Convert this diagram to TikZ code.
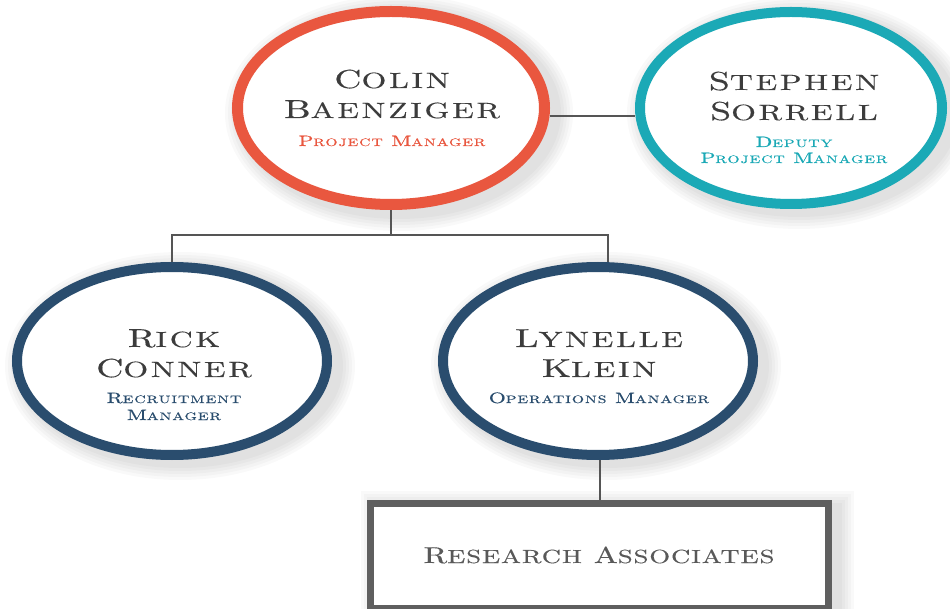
\documentclass[tikz,border=0pt]{standalone}
\usepackage{fontspec}
\usetikzlibrary{shapes.geometric,calc,backgrounds}
\newfontfamily\namefont{lmroman10-regular.otf}[FakeStretch=1.45, LetterSpace=12, FakeBold=0.3]
\newfontfamily\rolefont{lmroman10-regular.otf}[FakeStretch=1.45, LetterSpace=9, FakeBold=0.5]
\newfontfamily\boxfont{lmroman10-regular.otf}[FakeStretch=1.4, LetterSpace=5, FakeBold=0.3]
\newcommand\W[1]{\Wi#1\relax}
\def\Wi#1#2\relax{#1{\fontsize{\scs}{\scs}\selectfont\MakeUppercase{#2}}}
\def\scs{10pt}
\definecolor{cred}{HTML}{E9573F}
\definecolor{cteal}{HTML}{1BA9B6}
\definecolor{cnavy}{HTML}{2A4D6E}
\definecolor{ctext}{HTML}{3C3C3C}
\definecolor{cconn}{HTML}{555555}
\definecolor{cbox}{HTML}{5F5F5F}
\tikzset{
  person/.style={ellipse, fill=white, inner sep=0pt, line width=10pt, minimum width=310pt, minimum height=188pt},
  nm/.style={anchor=base, text=ctext, inner sep=0pt, font=\namefont\fontsize{26}{30}\selectfont\def\scs{22pt}},
  role/.style={anchor=base, inner sep=0pt, font=\rolefont\fontsize{15}{18}\selectfont\def\scs{10.8pt}},
  conn/.style={draw=cconn, line width=1.3pt},
  shade/.style={fill=black, opacity=0.025}
}
\begin{document}
\begin{tikzpicture}[x=1pt,y=-1pt]
\useasboundingbox (0,0) rectangle (950,609);
% circles
\node[person, draw=cred, line width=11pt, minimum width=307pt, minimum height=193pt] (colin) at (391,108) {};
\node[person, draw=cteal, minimum width=302pt, minimum height=192pt] (stephen) at (791,108) {};
\node[person, draw=cnavy] (rick) at (172,361) {};
\node[person, draw=cnavy] (lynelle) at (598,361) {};
\node[draw=cbox, fill=white, line width=7pt, minimum width=458pt, minimum height=105pt, inner sep=0pt] (box) at (599.5,556) {};
\coordinate (lvl) at (0,235);
\begin{scope}[on background layer]
  \fill[white] (0,0) rectangle (950,609);
  \foreach \n/\rx/\ry in {colin/160/104, stephen/158/102, rick/161/100, lynelle/161/100}{
    \foreach \k in {2,5,8,11,14}{
      \fill[shade] ($(\n.center)+(8,5)$) ellipse ({\rx+\k} and {\ry+\k});
    }
  }
  \foreach \k in {2,5,8,11,14}{
    \fill[shade] ($(box.south west)+(8-\k,5+\k)$) rectangle ($(box.north east)+(8+\k,5-\k)$);
  }
  \draw[conn] (colin.south) -- (colin.south |- lvl);
  \draw[conn] (rick.north) |- (colin.south |- lvl) -| ([xshift=10pt]lynelle.north);
  \draw[conn] ([yshift=-8pt]colin.east) -- ([yshift=-8pt]stephen.west);
  \draw[conn] ([xshift=2pt]lynelle.south) -- ([xshift=2pt]lynelle.south |- box.north);
\end{scope}
% texts
\node[nm] (colinA) at (392,88) {\W{Colin}};
\node[nm] (colinB) at (392,118) {\W{Baenziger}};
\node[role, text=cred] (colinR) at (392,146) {\W{Project} \W{Manager}};
\node[nm] (stephenA) at (794,90) {\W{Stephen}};
\node[nm] (stephenB) at (794,120) {\W{Sorrell}};
\node[role, text=cteal] (stephenR1) at (794,147) {\W{Deputy}};
\node[role, text=cteal] (stephenR2) at (794,163) {\W{Project} \W{Manager}};
\node[nm] (rickA) at (174,347) {\W{Rick}};
\node[nm] (rickB) at (174,377) {\W{Conner}};
\node[role, text=cnavy] (rickR1) at (174,403) {\W{Recruitment}};
\node[role, text=cnavy] (rickR2) at (174,420) {\W{Manager}};
\node[nm] (lynelleA) at (599,347) {\W{Lynelle}};
\node[nm] (lynelleB) at (599,377) {\W{Klein}};
\node[role, text=cnavy] (lynelleR) at (599,403) {\W{Operations} \W{Manager}};
\node[anchor=base, inner sep=0pt, text=ctext!85!white, font=\boxfont\fontsize{23}{27}\selectfont\def\scs{19pt}] (boxT) at (599,563) {\W{Research} \W{Associates}};
\end{tikzpicture}
\end{document}
